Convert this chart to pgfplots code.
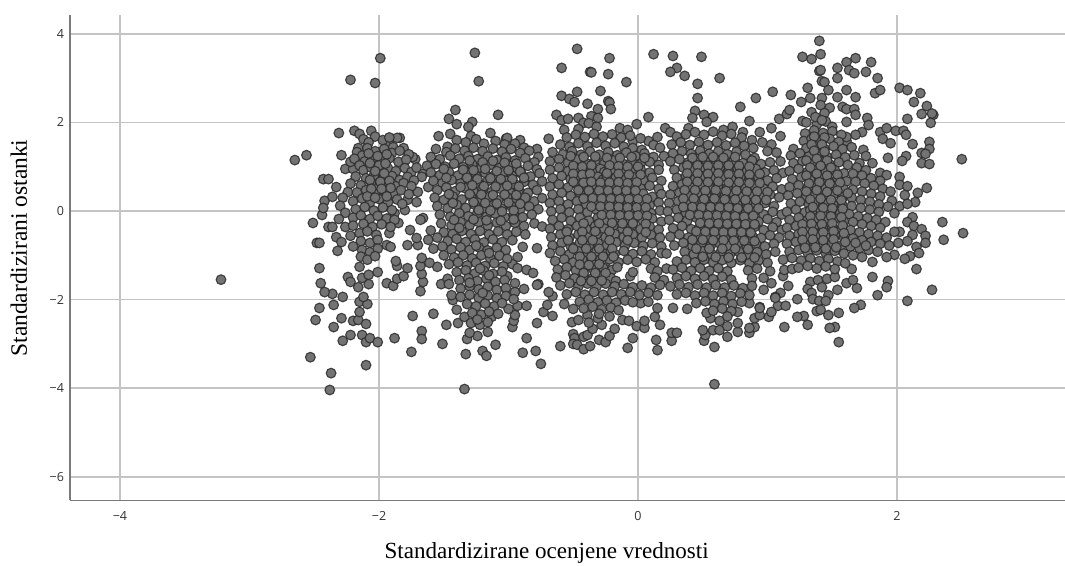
\documentclass[border=0pt]{standalone}
\usepackage{pgfplots}
\pgfplotsset{compat=1.18}
\usepackage{fontspec}
\setmainfont{Liberation Serif}
\newfontfamily\tickfont{Open Sans}
\definecolor{gridc}{HTML}{C4C4C4}
\definecolor{axc}{HTML}{7A7A7A}
\definecolor{ptf}{HTML}{737373}
\definecolor{ptd}{HTML}{2C2C2C}
\pgfplotsset{pts/.style={only marks,mark=*,mark size=3.65pt,mark options={fill=ptf,draw=ptd,line width=0.85pt,draw opacity=0.85}}}
\begin{document}
\begin{tikzpicture}[x=0.75pt,y=0.75pt]
\useasboundingbox (-70,-65.5) rectangle (995,500.5);
\begin{axis}[at={(0,0)},anchor=south west,scale only axis,width=746.25pt,height=364.1pt,
 xmin=-4.386,xmax=3.297,ymin=-6.535,ymax=4.424,
 axis x line=bottom,axis y line=left,axis line style={-,axc,line width=1pt},
 xtick={-4,-2,0,2},ytick={-6,-4,-2,0,2,4},
 xticklabels={−4,−2,0,2},yticklabels={−6,−4,−2,0,2,4},
 major tick length=0pt,
 grid=major,grid style={gridc,line width=1.1pt},
 tick label style={font=\tickfont\fontsize{9.4}{11}\selectfont,text=black!80},
 xticklabel style={yshift=-5pt},yticklabel style={xshift=-1pt},
 xlabel={Standardizirane ocenjene vrednosti},ylabel={Standardizirani ostanki},
 xlabel style={font=\fontsize{17.3}{20}\selectfont,at={(axis description cs:0.479,-0.108)},anchor=center},
 ylabel style={font=\fontsize{17.6}{20}\selectfont,at={(axis description cs:-0.0513,0.52)},anchor=center,rotate=0},
 clip=false]
% outlying points
\addplot[pts] coordinates {
(-3.22,-1.55)(-1.99,3.45)(-2.22,2.96)(-2.03,2.89)(-2.31,1.76)(-2.19,1.81)(-2.06,1.81)(-2.65,1.15)(-2.56,1.26)(-2.29,1.26)(-2.43,.72)(-2.39,.72)(-2.33,.54)(-2.51,-.27)(-2.44,-.09)(-2.42,.23)
(-.47,3.66)(-.22,3.45)(-.59,3.23)(-.37,3.14)(-.36,3.13)(-.23,3.09)(-.09,2.91)(-.29,2.71)(-.47,2.69)(-.59,2.6)(-.53,2.53)(-.49,2.46)(-.39,2.42)(-.23,2.48)(-.22,2.45)(-.21,2.3)(-.31,2.3)(-.63,2.17)(-.59,2.05)(-.54,2.08)(-.46,2.1)(-.36,2.14)(-.31,2.1)(-.42,1.99)(-.38,1.98)(-.32,1.9)(-.57,1.83)(-.46,1.85)(-.01,1.96)(.08,2.12)(-.14,1.87)(-.08,1.83)(.21,1.87)(.25,1.78)
(.12,3.54)(.27,3.5)(.49,3.48)(.3,3.23)(.25,3.14)(.36,3.05)(.46,2.87)(.63,3.0)(.46,2.55)(.44,2.26)(.79,2.35)(.91,2.55)(1.04,2.69)(1.18,2.62)(.86,2.03)(1.09,2.08)(1.15,2.19)(1.17,2.28)(1.03,1.87)(.42,2.1)(.51,2.17)(.58,2.12)(.53,2.01)(.39,1.87)(.66,1.83)(.73,1.9)(.81,1.78)(.94,1.78)(1.1,1.69)(1.2,1.4)(-.91,1.6)(-1.02,1.63)(-.78,1.4)(-.69,1.63)(-.04,1.58)(.15,1.67)(.08,1.58)(.12,1.49)
(-1.26,3.57)(-1.23,2.93)(-1.41,2.28)(-1.46,2.08)(-1.4,1.96)(-1.08,2.17)(-1.28,2.01)(-1.31,1.9)(-1.54,1.69)(-1.45,1.74)(-1.14,1.76)(-1.01,1.65)(-1.84,1.65)(-1.29,1.69)
(1.4,3.84)(1.27,3.48)(1.34,3.43)(1.41,3.54)(1.68,3.45)(1.8,3.36)(1.61,3.36)(1.54,3.23)(1.63,3.18)(1.67,3.11)(1.76,3.14)(1.4,3.16)(1.41,3.18)(1.54,3.0)(1.85,3.0)(1.42,2.93)(1.44,2.91)(1.31,2.78)(1.47,2.73)(1.61,2.73)(1.54,2.57)(1.68,2.57)(1.83,2.66)(1.87,2.73)(2.02,2.78)(2.08,2.73)(2.18,2.66)(2.13,2.46)(2.23,2.37)(2.19,2.19)(2.28,2.17)(2.27,2.2)(2.26,1.99)(2.08,2.08)(1.33,2.55)(1.42,2.55)(1.26,2.46)(1.41,2.39)(1.48,2.33)(1.34,2.23)(1.44,2.21)(1.58,2.35)(1.61,2.3)(1.67,2.3)(1.68,2.17)(1.77,2.1)(1.78,1.94)(1.61,2.01)(1.27,2.03)(1.73,1.78)(1.68,1.72)(1.61,1.58)(1.61,1.67)
(1.87,1.78)(1.92,1.87)(1.99,1.81)(2.05,1.81)(1.89,1.63)(1.95,1.53)(2.07,1.72)(2.12,1.51)(2.25,1.56)(2.25,1.4)(2.19,1.31)(2.22,1.29)(1.93,1.2)(2.07,1.24)(2.04,1.13)(2.19,1.08)(2.25,1.06)(2.5,1.17)(1.74,1.38)(1.76,1.24)(1.81,1.08)(1.71,1.08)(1.87,.86)(1.92,.81)(2.02,.77)(2.02,.59)(2.08,.56)(2.23,.52)(2.16,.41)(2.06,.36)(1.96,.23)(2.02,.11)(2.14,.2)(2.08,.16)(1.98,-.05)(2.12,-.14)(2.35,-.25)
(2.51,-.5)(2.36,-.65)(2.08,-.25)(2.13,-.34)(2.19,-.41)(2.22,-.56)(2.22,-.72)(2.12,-.54)(2.02,-.47)(1.98,-.47)(2.01,-.72)(2.08,-.68)(2.15,-.81)(2.17,-.95)(2.1,-1.02)(2.06,-1.08)(1.98,-.99)(1.92,-1.04)(2.15,-1.31)(1.81,-1.15)(1.65,-1.31)(1.81,-1.49)(1.93,-1.58)(1.92,-1.72)(2.27,-1.78)(1.85,-1.9)(2.08,-2.03)(1.72,-2.12)(1.67,-2.19)(1.69,-1.74)(1.61,-1.63)(1.66,-1.56)(1.54,-1.78)(1.55,-2.3)(1.47,-2.35)(1.38,-2.26)(1.52,-2.62)(1.48,-2.64)(1.55,-2.96)(1.31,-2.57)(1.13,-2.62)(1.28,-2.37)(1.23,-2.39)(1.23,-1.99)(1.16,-1.69)(1.1,-1.85)(1.06,-1.94)(1.08,-2.14)(1.14,-2.14)(1.01,-2.39)(1.03,-2.28)(.94,-2.17)(1.03,-1.63)(.97,-1.78)(.97,-1.51)(1.12,-1.47)(1.13,-1.33)(1.19,-1.31)
(1.33,-1.6)(1.39,-1.56)(1.46,-1.53)(1.52,-1.49)(1.31,-1.76)(1.34,-1.85)(1.42,-1.72)(1.47,-1.9)(1.35,-1.99)(1.4,-2.03)(1.45,-2.03)(1.41,-2.23)
(.59,-3.91)(-.75,-3.45)(-.79,-3.16)(-.78,-2.53)(-.66,-2.37)(-.73,-2.28)(-.7,-2.12)(-.66,-1.92)(-.69,-1.83)(-.77,-1.65)(-.6,-3.05)(-.57,-2.1)(-.5,-2.21)(-.51,-2.51)(-.46,-2.46)(-.5,-2.78)(-.49,-2.87)(-.5,-3.0)(-.47,-3.02)(-.42,-3.12)(-.37,-3.05)(-.42,-2.84)(-.3,-2.91)(-.25,-2.96)(-.22,-2.82)(-.18,-2.66)(-.12,-2.46)(-.07,-2.48)(-.39,-2.8)(-.35,-2.66)(-.28,-2.57)(-.39,-2.35)(-.31,-2.42)(-.08,-3.09)(-.04,-2.87)(-.01,-2.6)(.05,-2.64)(.05,-2.48)(.13,-2.39)(.17,-2.57)(.14,-2.91)(.15,-3.14)(.26,-2.93)(.26,-2.75)(.3,-2.75)(.15,-2.19)(.27,-2.19)(.38,-2.21)(.02,-2.08)(.08,-2.05)(.51,-2.93)(.52,-2.8)(.5,-2.69)(.59,-3.07)(.56,-2.42)(.63,-2.48)(.53,-2.3)(.58,-2.69)(.63,-2.69)(.69,-2.6)(.69,-2.84)(.77,-2.73)(.77,-2.53)(.77,-2.28)(.86,-2.75)(.9,-2.62)(.86,-2.64)(.9,-2.42)(.94,-2.35)(1.06,-1.96)(.86,-2.08)(.94,-2.19)
(-2.38,-4.04)(-1.34,-4.02)(-2.37,-3.66)(-2.1,-3.48)(-2.53,-3.3)(-1.75,-3.18)(-1.33,-3.23)(-1.2,-3.16)(-1.17,-3.27)(-1.1,-3.02)(-.89,-3.2)(-.86,-2.87)(-2.28,-2.93)(-2.22,-2.8)(-2.13,-2.8)(-2.1,-2.96)(-2.07,-2.87)(-2.01,-2.96)(-1.88,-2.87)(-1.67,-2.71)(-1.67,-2.89)(-1.51,-3.0)(-2.35,-2.62)(-2.49,-2.46)(-2.29,-2.42)(-2.2,-2.48)(-2.16,-2.46)(-2.1,-2.55)(-1.74,-2.37)(-1.58,-2.32)(-1.48,-2.57)(-1.39,-2.53)(-2.46,-2.19)(-2.35,-2.12)(-2.15,-2.28)(-2.28,-1.94)(-2.36,-1.87)(-2.42,-1.83)(-2.45,-1.63)(-2.46,-1.29)(-2.15,-2.05)(-2.09,-2.1)(-2.12,-1.94)(-2.24,-1.49)(-2.22,-1.6)(-2.16,-1.72)(-2.08,-1.65)(-2.13,-1.51)(-2.08,-1.44)(-2.01,-1.38)(-2.15,-1.26)(-2.32,-.9)(-2.48,-.72)(-2.46,-.72)
(-1.94,-1.63)(-1.89,-1.69)(-1.86,-1.53)(-1.81,-1.47)(-1.78,-1.29)(-1.86,-1.24)(-1.87,-1.13)(-1.68,-1.81)(-1.66,-1.6)(-1.67,-1.42)(-1.68,-1.24)(-1.67,-1.06)(-1.55,-1.26)(-1.61,-1.17)(-1.52,-1.65)(-1.47,-1.53)(-1.46,-1.65)(-1.43,-2.01)(-1.44,-1.9)(-1.4,-2.23)(-1.34,-2.39)(-1.29,-2.53)(-1.13,-2.39)(-1.22,-2.57)(-1.16,-2.73)(-1.16,-2.51)(-1.24,-2.82)(-1.32,-2.89)(-1.3,-2.75)(-.97,-2.62)(-.96,-2.48)(-.95,-2.35)(-1,-2.21)(-.93,-2.14)(-.86,-2.14)(-.93,-1.04)(-.97,-1.2)(-.93,-1.29)(-.86,-1.33)(-.81,-1.4)(-.78,-1.67)(-1.01,-1.47)(-.89,-.81)(-.78,-.84)
(-2.24,.43)(-2.36,.32)(-2.43,.07)(-2.39,-.36)(-2.36,-.36)(-2.26,-.36)(-2.33,-.59)(-2.29,-.7)(-2.26,.95)(-2.2,.95)(-2.22,1.11)(-2.16,1.42)(-2.15,1.74)(-1.86,1.65)(-1.81,1.42)(-1.72,1.17)(-1.74,1.22)(-1.92,1.53)(-1.89,1.44)(-1.66,.84)(-1.67,.77)(-1.62,.54)(-1.7,.43)(-1.71,.2)(-1.78,.25)(-1.8,.02)(-1.88,-.05)(-1.85,-.27)(-1.94,-.25)(-1.92,-.5)(-1.66,-.16)(-1.68,-.2)(-1.76,-.43)(-1.78,-.77)(-1.7,-.77)(-1.71,-.61)(-1.94,-.77)(-1.91,-.81)
};
% left group
\addplot[pts] coordinates {
(-2.12,1.62)(-2.03,1.68)(-1.97,1.6)(-1.92,1.66)(-2.08,1.55)
(-2.17,1.33)(-2.09,1.42)(-2.03,1.35)(-1.96,1.4)(-1.9,1.31)(-1.84,1.36)(-1.77,1.28)(-2.13,1.25)
(-2.19,1.18)(-2.11,1.12)(-2.05,1.2)(-1.98,1.14)(-1.92,1.19)(-1.85,1.11)(-1.79,1.16)(-2.15,1.03)
(-2.12,.92)(-2.06,.98)(-2,.89)(-1.93,.96)(-1.87,.9)(-1.8,.97)(-1.75,.88)(-1.71,.98)
(-2.18,.78)(-2.1,.74)(-2.04,.8)(-1.97,.72)(-1.9,.79)(-1.84,.7)(-1.78,.77)(-1.73,.69)
(-2.22,.62)(-2.14,.58)(-2.06,.64)(-2,.55)(-1.94,.62)(-1.87,.56)(-1.81,.63)(-1.75,.56)
(-2.17,.42)(-2.1,.47)(-2.03,.39)(-1.96,.46)(-1.89,.4)(-1.83,.47)(-1.77,.38)(-2.28,.3)
(-2.2,.22)(-2.13,.28)(-2.07,.19)(-2,.27)(-1.93,.2)(-1.86,.26)(-1.82,.16)(-2.3,.12)
(-2.18,.04)(-2.11,.09)(-2.04,.01)(-1.97,.08)(-1.9,.02)(-2.26,-.04)
(-2.2,-.15)(-2.14,-.1)(-2.07,-.18)(-2.01,-.11)(-1.94,-.17)(-1.88,-.2)(-2.31,-.18)
(-2.2,-.33)(-2.12,-.29)(-2.05,-.36)(-1.98,-.3)(-1.91,-.36)
(-2.15,-.5)(-2.09,-.46)(-2.02,-.54)(-2.22,-.56)
(-2.14,-.68)(-2.07,-.72)(-2.01,-.65)(-2.2,-.8)
(-2.13,-.88)(-2.07,-.93)(-2.01,-.85)
(-2.14,-1.03)(-2.09,-1.1)(-2.03,-1.02)
(-2.08,1.3)(-2.01,1.24)(-1.94,1.28)(-2.07,1.08)(-2.0,1.03)(-1.95,1.07)(-2.03,.9)(-1.96,.85)(-2.07,.7)(-1.99,.66)(-1.92,.68)(-2.06,.5)(-1.98,.5)(-1.91,.52)(-2.09,.33)(-2.03,.3)(-1.94,.33)
};
% second group
\addplot[pts] coordinates {
(-1.4,1.6)(-1.33,1.55)(-1.25,1.62)(-1.19,1.52)(-1.1,1.58)(-1.03,1.5)(-.95,1.52)(-.88,1.43)(-1.47,1.45)
(-1.56,1.4)(-1.48,1.33)(-1.41,1.41)(-1.34,1.36)(-1.27,1.43)(-1.2,1.35)(-1.12,1.41)(-1.05,1.34)(-.98,1.4)(-.91,1.31)(-.84,1.36)(-.77,1.22)
(-1.6,1.22)(-1.53,1.17)(-1.45,1.25)(-1.38,1.18)(-1.31,1.24)(-1.24,1.17)(-1.16,1.23)(-1.09,1.15)(-1.02,1.21)(-.95,1.14)(-.87,1.19)(-.8,1.1)
(-1.63,1.02)(-1.56,1.06)(-1.49,1.0)(-1.42,1.07)(-1.35,.99)(-1.28,1.05)(-1.21,.97)(-1.14,1.04)(-1.07,.97)(-1,1.03)(-.93,.96)(-.85,1.02)(-.78,.94)
(-1.6,.87)(-1.53,.81)(-1.46,.88)(-1.39,.8)(-1.32,.87)(-1.25,.79)(-1.18,.86)(-1.11,.8)(-1.04,.87)(-.97,.79)(-.9,.85)(-.83,.78)(-.76,.85)
(-1.58,.68)(-1.51,.63)(-1.44,.7)(-1.37,.62)(-1.3,.69)(-1.23,.62)(-1.16,.68)(-1.09,.61)(-1.02,.68)(-.95,.6)(-.88,.66)(-.81,.59)(-.74,.67)
(-1.55,.47)(-1.48,.53)(-1.41,.45)(-1.34,.52)(-1.27,.44)(-1.2,.51)(-1.13,.43)(-1.06,.5)(-.99,.42)(-.92,.48)(-.85,.41)(-.78,.47)
(-1.57,.3)(-1.5,.25)(-1.43,.33)(-1.36,.26)(-1.29,.33)(-1.22,.25)(-1.15,.32)(-1.08,.24)(-1.01,.31)(-.94,.23)(-.87,.3)(-.8,.22)(-.74,.29)
(-1.55,.11)(-1.47,.06)(-1.4,.14)(-1.33,.07)(-1.26,.14)(-1.19,.06)(-1.12,.13)(-1.05,.05)(-.98,.12)(-.91,.04)(-.84,.1)(-.77,.04)
(-1.53,-.08)(-1.45,-.13)(-1.38,-.05)(-1.31,-.12)(-1.24,-.05)(-1.17,-.13)(-1.1,-.06)(-1.03,-.14)(-.96,-.07)(-.89,-.14)(-.82,-.08)
(-1.52,-.28)(-1.44,-.33)(-1.37,-.25)(-1.3,-.32)(-1.23,-.25)(-1.16,-.33)(-1.09,-.26)(-1.02,-.34)(-.95,-.27)(-.88,-.34)(-.8,-.28)(-.74,-.35)
(-1.6,-.44)(-1.5,-.48)(-1.43,-.52)(-1.36,-.45)(-1.29,-.52)(-1.22,-.45)(-1.15,-.53)(-1.08,-.46)(-1.01,-.53)(-.94,-.47)(-.87,-.53)
(-1.62,-.65)(-1.55,-.6)(-1.47,-.68)(-1.4,-.63)(-1.33,-.7)(-1.26,-.64)(-1.19,-.71)(-1.12,-.64)(-1.05,-.7)(-.97,-.66)
(-1.58,-.85)(-1.51,-.8)(-1.44,-.87)(-1.37,-.82)(-1.3,-.88)(-1.23,-.82)(-1.16,-.89)(-1.09,-.83)(-1.02,-.88)
(-1.5,-1.0)(-1.42,-1.05)(-1.35,-1.0)(-1.28,-1.07)(-1.21,-1.0)(-1.14,-1.07)(-1.07,-1.01)(-1.01,-1.08)
(-1.46,-1.2)(-1.39,-1.16)(-1.32,-1.23)(-1.25,-1.17)(-1.18,-1.24)(-1.11,-1.18)(-1.04,-1.25)
(-1.4,-1.38)(-1.33,-1.34)(-1.26,-1.41)(-1.19,-1.35)(-1.12,-1.42)(-1.05,-1.37)
(-1.38,-1.56)(-1.31,-1.52)(-1.24,-1.58)(-1.17,-1.53)(-1.1,-1.6)(-1.03,-1.56)(-.95,-1.63)
(-1.37,-1.75)(-1.3,-1.7)(-1.23,-1.77)(-1.16,-1.71)(-1.09,-1.78)(-1.02,-1.74)(-.95,-1.83)(-.88,-1.76)
(-1.37,-1.94)(-1.3,-1.89)(-1.23,-1.96)(-1.16,-1.91)(-1.09,-1.97)(-1.02,-1.92)(-.96,-1.99)
(-1.32,-2.1)(-1.25,-2.15)(-1.18,-2.09)(-1.11,-2.15)(-1.05,-2.08)
(-1.28,-2.3)(-1.21,-2.34)(-1.15,-2.27)(-1.08,-2.32)(-1.24,-2.45)
(-1.3,1.14)(-1.2,1.1)(-1.12,1.13)(-1.03,1.09)(-.94,1.07)(-1.35,.93)(-1.27,.92)(-1.18,.95)(-1.09,.9)(-1.0,.92)(-.91,.89)(-1.32,.75)(-1.24,.72)(-1.14,.74)(-1.06,.72)(-.97,.72)(-.88,.75)(-1.37,.54)(-1.28,.58)(-1.19,.56)(-1.1,.55)(-1.01,.57)(-.92,.55)(-1.3,.38)(-1.21,.37)(-1.12,.36)(-1.03,.37)(-.94,.36)(-1.27,.2)(-1.18,.18)(-1.09,.17)(-1.0,.19)(-.91,.16)(-1.23,.02)(-1.14,.01)(-1.05,-.01)(-.96,.01)(-1.27,-.19)(-1.17,-.21)(-1.06,-.22)(-.96,-.19)
(-1.43,.18)(-1.46,.38)(-1.48,.75)(-1.5,.95)(-1.42,-.2)(-1.38,-.38)(-1.25,-.78)(-1.15,-.95)(-1.22,-1.3)(-1.15,-1.45)(-1.3,-1.62)(-1.2,-1.85)
};
% third group
\addplot[pts] coordinates {
(-.55,1.66)(-.48,1.72)(-.41,1.67)(-.34,1.74)(-.27,1.68)(-.2,1.73)(-.13,1.66)(-.06,1.7)(.02,1.64)
(-.6,1.5)(-.53,1.45)(-.46,1.53)(-.39,1.46)(-.32,1.54)(-.25,1.47)(-.18,1.53)(-.11,1.45)(-.04,1.42)(.03,1.38)(.17,1.43)
(-.66,1.33)(-.58,1.28)(-.51,1.35)(-.44,1.27)(-.37,1.34)(-.3,1.27)(-.23,1.33)(-.16,1.26)(-.09,1.32)(-.02,1.24)(.05,1.3)(.12,1.22)(.2,1.24)
(-.68,1.12)(-.61,1.17)(-.54,1.09)(-.47,1.16)(-.4,1.08)(-.33,1.15)(-.26,1.07)(-.19,1.14)(-.12,1.07)(-.05,1.13)(.02,1.06)(.09,1.11)(.16,1.04)
(-.68,.93)(-.61,.98)(-.54,.9)(-.47,.97)(-.4,.89)(-.36,.94)(-.33,.86)(-.29,.95)(-.26,.88)(-.22,.94)(-.19,.87)(-.12,.95)(-.05,.88)(.02,.94)(.09,.87)(.16,.93)
(-.66,.74)(-.59,.79)(-.52,.72)(-.45,.79)(-.41,.72)(-.38,.76)(-.34,.7)(-.31,.77)(-.27,.71)(-.24,.77)(-.2,.7)(-.17,.76)(-.1,.7)(-.03,.76)(.04,.69)(.11,.75)(.18,.68)
(-.68,.55)(-.61,.6)(-.54,.53)(-.47,.6)(-.43,.53)(-.4,.58)(-.36,.51)(-.33,.59)(-.29,.52)(-.26,.58)(-.22,.51)(-.19,.57)(-.12,.52)(-.05,.58)(.02,.51)(.09,.57)(.16,.5)
(-.66,.37)(-.59,.41)(-.52,.34)(-.45,.41)(-.38,.34)(-.31,.41)(-.24,.34)(-.2,.39)(-.17,.33)(-.13,.4)(-.1,.33)(-.06,.39)(-.03,.32)(.04,.39)(.11,.32)(.18,.38)
(-.68,.18)(-.61,.22)(-.54,.15)(-.47,.22)(-.4,.15)(-.33,.22)(-.26,.16)(-.19,.22)(-.15,.16)(-.12,.21)(-.08,.14)(-.05,.2)(-.01,.14)(.02,.2)(.09,.13)(.16,.19)
(-.67,-.01)(-.6,.04)(-.53,-.03)(-.46,.04)(-.39,-.03)(-.32,.03)(-.25,-.03)(-.18,.03)(-.14,-.03)(-.11,.03)(-.07,-.04)(-.04,.02)(0,-.04)(.03,.02)(.1,-.05)(.17,.01)
(-.66,-.2)(-.59,-.15)(-.52,-.22)(-.45,-.15)(-.38,-.22)(-.31,-.15)(-.24,-.21)(-.17,-.15)(-.1,-.22)(-.03,-.16)(.04,-.23)(.11,-.17)(.18,-.24)
(-.68,-.4)(-.61,-.34)(-.54,-.41)(-.47,-.34)(-.4,-.41)(-.33,-.34)(-.26,-.4)(-.19,-.33)(-.12,-.4)(-.05,-.34)(.02,-.41)(.09,-.35)(.16,-.42)
(-.67,-.59)(-.6,-.53)(-.53,-.6)(-.46,-.53)(-.39,-.6)(-.32,-.53)(-.25,-.59)(-.18,-.52)(-.11,-.59)(-.04,-.53)(.03,-.6)(.1,-.54)(.17,-.6)
(-.66,-.78)(-.59,-.72)(-.52,-.79)(-.45,-.72)(-.38,-.79)(-.31,-.72)(-.24,-.78)(-.17,-.71)(-.1,-.78)(-.03,-.72)(.04,-.79)(.11,-.73)(.18,-.8)
(-.68,-.95)(-.6,-.91)(-.53,-.98)(-.46,-.91)(-.39,-.98)(-.32,-.91)(-.25,-.97)(-.21,-.91)(-.18,-.97)(-.11,-.9)(-.04,-.97)(.03,-.91)(.1,-.98)(.18,-.95)
(-.64,-1.13)(-.57,-1.09)(-.5,-1.16)(-.43,-1.1)(-.36,-1.16)(-.29,-1.1)(-.25,-1.15)(-.22,-1.09)(-.15,-1.16)(-.08,-1.1)(-.01,-1.15)(.06,-1.09)(.13,-1.16)
(-.62,-1.32)(-.55,-1.27)(-.48,-1.34)(-.41,-1.28)(-.34,-1.34)(-.27,-1.28)(-.2,-1.33)(-.16,-1.27)(.1,-1.3)(.15,-1.36)(.22,-1.3)
(-.63,-1.5)(-.56,-1.45)(-.49,-1.52)(-.42,-1.46)(-.35,-1.52)(-.28,-1.46)(-.21,-1.51)(-.17,-1.58)(.13,-1.5)(.2,-1.56)(-.06,-1.47)(-.04,-1.38)
(-.6,-1.68)(-.53,-1.63)(-.46,-1.7)(-.39,-1.64)(-.32,-1.7)(-.25,-1.64)(-.18,-1.7)(-.11,-1.65)(-.04,-1.72)(.03,-1.68)(.1,-1.73)(.17,-1.67)
(-.55,-1.88)(-.48,-1.83)(-.41,-1.89)(-.34,-1.83)(-.27,-1.89)(-.2,-1.83)(-.13,-1.88)(-.06,-1.83)(.01,-1.9)(.08,-1.85)(.15,-1.9)
(-.45,-2.05)(-.38,-2.0)(-.31,-2.06)(-.24,-2.02)(-.17,-2.07)(-.1,-2.02)(-.04,-2.06)
(-.42,-2.2)(-.35,-2.16)(-.28,-2.22)(-.21,-2.18)(-.15,-2.24)(-.3,-2.32)(-.22,-2.38)(-.38,-2.52)
(-.52,1.24)(-.42,1.22)(-.33,1.23)(-.24,1.2)(-.14,1.2)(-.05,1.22)(.05,1.2)(-.5,1.02)(-.43,1.0)(-.36,1.03)(-.22,1.03)(-.15,1.01)(-.08,1.0)(.0,1.0)(-.5,.84)(-.43,.82)(-.37,.84)(-.24,.85)(-.15,.84)(-.07,.82)(.02,.82)(-.5,.66)(-.42,.64)(-.36,.66)(-.29,.64)(-.22,.64)(-.15,.65)(-.08,.63)(-.01,.65)(-.46,.47)(-.38,.46)(-.3,.46)(-.23,.46)(-.16,.46)(-.09,.46)(-.02,.46)(-.42,.28)(-.35,.29)(-.28,.28)(-.21,.28)(-.14,.27)(-.07,.27)(.0,.27)(.07,.27)(-.36,.1)(-.29,.1)(-.22,.1)(-.15,.09)(-.08,.08)(-.01,.08)(.06,.08)(-.28,-.09)(-.21,-.09)(-.14,-.1)(-.07,-.1)(0,-.1)(.07,-.11)(-.42,-.28)(-.3,-.28)(-.2,-.27)(-.12,-.28)(-.04,-.28)(.06,-.29)
(-.55,-.47)(-.43,-.47)(-.33,-.46)(-.22,-.46)(-.08,-.47)(.06,-.48)(-.54,-.66)(-.43,-.66)(-.35,-.66)(-.22,-.66)(-.08,-.66)(-.5,-.85)(-.4,-.85)(-.3,-.85)(-.2,-.85)(-.45,-1.03)(-.36,-1.03)(-.27,-1.03)(-.19,-1.03)(-.45,-1.21)(-.38,-1.22)(-.3,-1.2)(-.42,-1.4)(-.33,-1.4)(-.25,-1.4)(-.44,-1.58)(-.36,-1.58)(-.28,-1.57)
};
% fourth group
\addplot[pts] coordinates {
(.3,1.68)(.37,1.73)(.44,1.78)(.51,1.72)(.58,1.79)(.65,1.7)(.72,1.74)(.8,1.66)(.88,1.6)(.96,1.55)(1.03,1.5)
(.26,1.5)(.33,1.55)(.4,1.49)(.47,1.56)(.54,1.49)(.61,1.55)(.68,1.48)(.75,1.54)(.82,1.47)(.89,1.42)(1.0,1.35)(1.07,1.32)
(.27,1.3)(.34,1.35)(.41,1.29)(.48,1.36)(.55,1.29)(.62,1.35)(.69,1.28)(.76,1.34)(.83,1.27)(.9,1.2)(1.1,1.12)
(.25,1.12)(.32,1.17)(.39,1.1)(.46,1.17)(.53,1.1)(.6,1.16)(.67,1.09)(.74,1.15)(.81,1.08)(.88,1.14)(.95,1.06)(1.02,1.1)
(.28,.93)(.35,.98)(.42,.91)(.49,.98)(.56,.91)(.63,.97)(.7,.9)(.77,.96)(.84,.89)(.91,.95)(.98,.87)(1.05,.92)(1.12,.86)
(.3,.75)(.37,.79)(.44,.72)(.51,.79)(.58,.72)(.65,.78)(.72,.71)(.79,.77)(.86,.7)(.93,.76)(1.0,.69)(1.07,.74)
(.27,.56)(.34,.6)(.41,.53)(.48,.6)(.55,.53)(.62,.59)(.69,.52)(.76,.58)(.83,.51)(.9,.57)(.97,.5)(1.04,.55)(1.11,.49)
(.25,.37)(.32,.41)(.39,.34)(.46,.41)(.53,.34)(.6,.4)(.67,.33)(.74,.39)(.81,.32)(.88,.38)(.95,.31)(1.02,.37)(1.09,.31)
(.24,.18)(.31,.22)(.38,.15)(.45,.22)(.5,.16)(.54,.22)(.58,.16)(.62,.21)(.66,.14)(.7,.2)(.77,.13)(.84,.19)(.91,.12)(.98,.18)(1.05,.11)
(.23,-.01)(.3,.03)(.37,-.04)(.44,.03)(.51,-.03)(.55,.03)(.59,-.04)(.63,.03)(.67,-.05)(.71,.01)(.75,-.06)(.79,0)(.83,-.07)(.9,-.01)(.97,-.08)(1.04,-.02)(1.11,-.08)
(.24,-.2)(.31,-.15)(.38,-.22)(.45,-.15)(.52,-.22)(.59,-.16)(.66,-.23)(.7,-.16)(.74,-.22)(.78,-.16)(.82,-.23)(.86,-.17)(.93,-.24)(1.0,-.18)(1.07,-.25)
(.27,-.39)(.34,-.34)(.41,-.41)(.48,-.34)(.55,-.41)(.62,-.35)(.69,-.42)(.76,-.35)(.83,-.42)(.9,-.36)(.97,-.43)(1.04,-.37)(1.11,-.43)
(.25,-.58)(.32,-.53)(.39,-.6)(.46,-.53)(.53,-.6)(.6,-.54)(.67,-.6)(.74,-.54)(.81,-.61)(.88,-.55)(.95,-.61)(1.02,-.55)(1.09,-.6)
(.28,-.78)(.35,-.72)(.42,-.79)(.49,-.72)(.56,-.79)(.63,-.73)(.7,-.79)(.77,-.73)(.84,-.8)(.91,-.74)(.98,-.8)(1.05,-.74)
(.22,-.96)(.36,-.92)(.43,-.98)(.5,-.91)(.57,-.98)(.64,-.92)(.71,-.98)(.78,-.92)(.85,-.99)(.92,-.93)(.99,-.98)(1.06,-.92)
(.3,-1.14)(.37,-1.1)(.44,-1.16)(.51,-1.1)(.58,-1.16)(.65,-1.11)(.72,-1.17)(.79,-1.11)(.86,-1.18)(.93,-1.12)(1.0,-1.17)
(.27,-1.32)(.34,-1.28)(.41,-1.35)(.48,-1.29)(.55,-1.35)(.62,-1.29)(.69,-1.36)(.85,-1.34)(.92,-1.3)(1.02,-1.36)
(.3,-1.51)(.37,-1.47)(.44,-1.53)(.51,-1.47)(.58,-1.54)(.65,-1.48)(.72,-1.55)(.88,-1.52)
(.25,-1.7)(.32,-1.66)(.39,-1.72)(.46,-1.66)(.53,-1.73)(.6,-1.67)(.67,-1.73)(.74,-1.68)(.81,-1.74)(.88,-1.69)
(.3,-1.88)(.37,-1.85)(.44,-1.91)(.51,-1.85)(.58,-1.91)(.65,-1.85)(.72,-1.92)(.79,-1.86)(.86,-1.9)
(.45,-2.08)(.52,-2.04)(.59,-2.1)(.66,-2.04)(.73,-2.1)(.8,-2.05)
(.58,-2.25)(.65,-2.2)(.72,-2.26)(.69,-2.38)
(.42,1.2)(.5,1.22)(.58,1.22)(.66,1.2)(.75,1.22)(.38,1.03)(.46,1.03)(.54,1.02)(.62,1.03)(.7,1.03)(.78,1.02)(.86,1.0)(.38,.85)(.46,.85)(.54,.84)(.62,.85)(.7,.83)(.78,.84)(.86,.82)(.94,.84)(.38,.66)(.46,.66)(.54,.65)(.62,.66)(.7,.64)(.78,.65)(.86,.63)(.94,.63)(.36,.47)(.44,.47)(.52,.46)(.6,.47)(.68,.45)(.76,.46)(.84,.44)(.92,.44)(1.0,.43)(.35,.28)(.43,.28)(.51,.27)(.59,.28)(.67,.26)(.75,.26)(.83,.25)(.91,.25)(.99,.25)(.35,.09)(.42,.09)(.49,.08)(.56,.09)(.63,.08)(.7,.08)(.77,.06)(.85,.06)(.93,.06)(.4,-.09)(.47,-.09)(.54,-.1)(.61,-.1)(.68,-.11)(.75,-.12)(.82,-.13)(.89,-.11)(.48,-.27)(.55,-.28)(.62,-.28)(.69,-.29)(.76,-.29)(.83,-.3)(.9,-.3)(.45,-.46)(.52,-.47)(.59,-.47)(.66,-.48)(.73,-.48)(.8,-.48)(.87,-.49)(.42,-.65)(.5,-.65)(.58,-.66)(.66,-.66)(.74,-.67)(.82,-.67)(.9,-.68)(.45,-.85)(.55,-.85)(.65,-.85)(.75,-.85)(.85,-.86)(.5,-1.03)(.6,-1.04)(.7,-1.05)(.8,-1.05)(.9,-1.05)
};
% fifth group
\addplot[pts] coordinates {
(1.3,2.0)(1.38,1.95)(1.45,2.02)(1.5,1.9)(1.36,1.82)(1.43,1.76)(1.5,1.8)(1.29,1.75)(1.57,1.72)
(1.28,1.58)(1.34,1.63)(1.41,1.57)(1.48,1.63)(1.55,1.56)
(1.3,1.42)(1.37,1.46)(1.44,1.4)(1.51,1.46)(1.58,1.4)(1.65,1.44)
(1.18,1.25)(1.25,1.3)(1.32,1.23)(1.39,1.28)(1.46,1.22)(1.53,1.27)(1.6,1.21)(1.67,1.26)
(1.2,1.08)(1.27,1.12)(1.34,1.06)(1.41,1.12)(1.48,1.05)(1.55,1.1)(1.62,1.04)(1.69,.98)(1.76,.92)
(1.17,.9)(1.24,.95)(1.31,.88)(1.38,.93)(1.45,.87)(1.52,.92)(1.59,.85)(1.66,.84)(1.73,.8)(1.8,.74)(1.87,.68)
(1.19,.72)(1.26,.76)(1.33,.7)(1.4,.75)(1.47,.69)(1.54,.74)(1.61,.67)(1.68,.66)(1.75,.62)(1.82,.57)(1.89,.5)(1.95,.44)
(1.17,.54)(1.24,.58)(1.31,.52)(1.38,.57)(1.45,.51)(1.52,.56)(1.59,.49)(1.66,.48)(1.73,.44)(1.8,.39)(1.87,.33)
(1.16,.35)(1.23,.4)(1.3,.34)(1.37,.39)(1.44,.33)(1.51,.38)(1.58,.31)(1.65,.3)(1.72,.25)(1.79,.21)(1.86,.15)(1.93,.1)
(1.18,.17)(1.25,.21)(1.32,.15)(1.39,.2)(1.43,.14)(1.47,.19)(1.51,.13)(1.58,.12)(1.65,.11)(1.72,.07)(1.79,.03)(1.86,-.02)
(1.15,-.02)(1.22,.03)(1.29,-.03)(1.33,.02)(1.37,-.04)(1.41,.01)(1.45,-.05)(1.49,0)(1.56,-.06)(1.63,-.07)(1.7,-.12)(1.77,-.16)(1.84,-.2)(1.91,-.25)
(1.17,-.2)(1.24,-.15)(1.31,-.21)(1.38,-.16)(1.45,-.22)(1.52,-.17)(1.59,-.24)(1.66,-.25)(1.73,-.3)(1.8,-.34)(1.87,-.38)
(1.15,-.38)(1.22,-.34)(1.29,-.4)(1.36,-.35)(1.43,-.41)(1.5,-.36)(1.57,-.42)(1.64,-.43)(1.71,-.48)(1.78,-.52)(1.85,-.56)(1.92,-.6)
(1.17,-.56)(1.24,-.52)(1.31,-.58)(1.38,-.53)(1.45,-.59)(1.52,-.54)(1.59,-.6)(1.66,-.62)(1.73,-.66)(1.8,-.7)(1.87,-.74)(1.94,-.78)
(1.15,-.74)(1.22,-.7)(1.29,-.76)(1.36,-.71)(1.43,-.77)(1.5,-.72)(1.57,-.78)(1.64,-.8)(1.71,-.84)(1.78,-.88)(1.85,-.92)
(1.17,-.92)(1.24,-.88)(1.31,-.94)(1.38,-.89)(1.45,-.95)(1.52,-.9)(1.59,-.96)(1.66,-1.0)(1.73,-1.04)
(1.12,-1.1)(1.19,-1.06)(1.26,-1.12)(1.33,-1.07)(1.4,-1.13)(1.47,-1.08)(1.54,-1.14)(1.6,-1.18)
(1.24,-1.28)(1.31,-1.24)(1.38,-1.3)(1.45,-1.25)(1.52,-1.31)
(1.37,2.12)(1.42,2.05)(1.36,1.68)(1.44,1.66)(1.34,1.5)(1.42,1.5)(1.36,1.36)(1.44,1.34)(1.3,1.14)(1.38,1.18)(1.46,1.14)(1.33,.98)(1.41,1.02)(1.49,.98)(1.3,.8)(1.38,.84)(1.46,.8)(1.54,.82)(1.32,.62)(1.4,.65)(1.48,.62)(1.56,.64)(1.3,.44)(1.38,.47)(1.46,.43)(1.54,.46)(1.62,.4)(1.33,.26)(1.41,.28)(1.49,.25)(1.57,.24)(1.35,.09)(1.43,.07)(1.5,.06)(1.58,.05)(1.33,-.12)(1.41,-.11)(1.49,-.12)(1.57,-.14)(1.27,-.3)(1.34,-.29)(1.42,-.3)(1.5,-.28)(1.58,-.33)(1.27,-.47)(1.35,-.47)(1.43,-.48)(1.51,-.46)(1.59,-.5)(1.27,-.65)(1.35,-.64)(1.43,-.66)(1.51,-.64)(1.6,-.7)(1.29,-.83)(1.37,-.82)(1.45,-.85)(1.53,-.82)(1.68,-.72)(1.76,-.78)
};
\end{axis}
\end{tikzpicture}
\end{document}
